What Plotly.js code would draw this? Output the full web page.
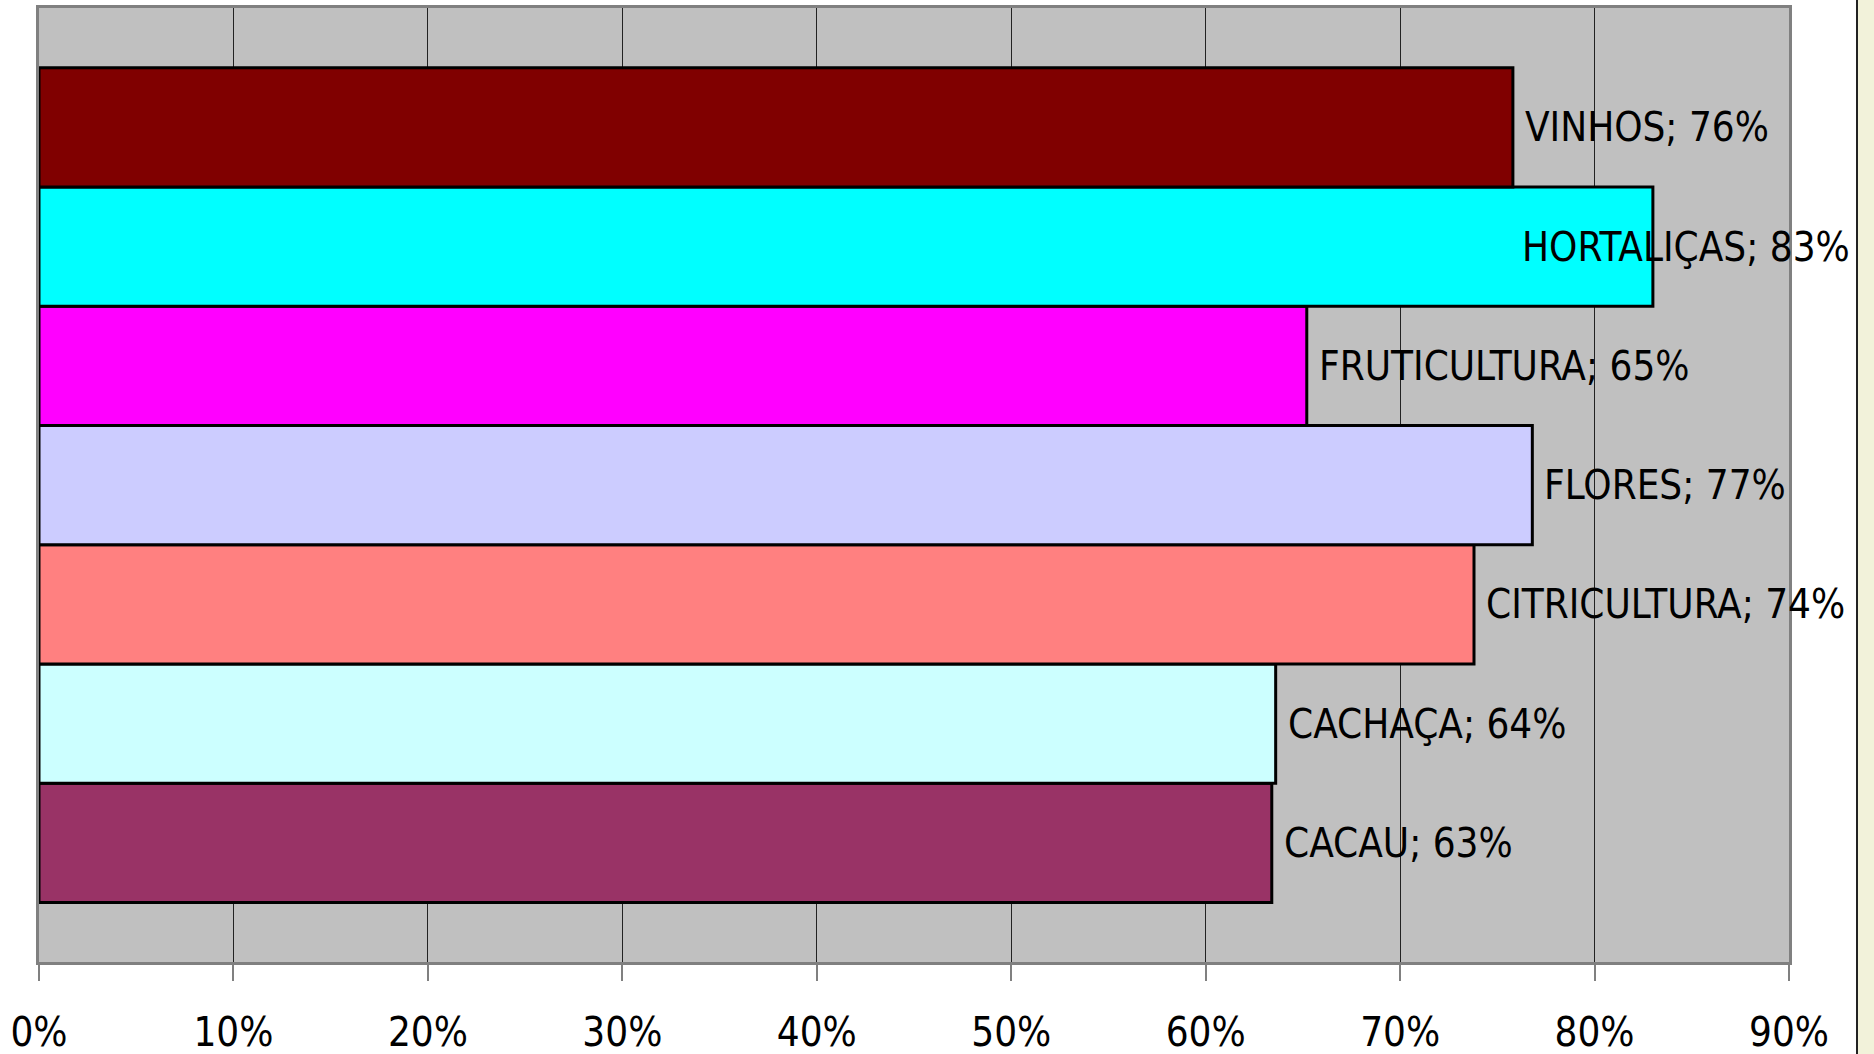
<!DOCTYPE html>
<html>
<head>
<meta charset="utf-8">
<script src="https://cdn.plot.ly/plotly-3.0.1.min.js"></script>
<style>
  html, body { margin: 0; padding: 0; background: #ffffff; }
  #chart { width: 1874px; height: 1054px; }
</style>
</head>
<body>
<div id="chart"></div>
<script>
// Categories listed bottom to top
const categories = ["CACAU", "CACHAÇA", "CITRICULTURA", "FLORES", "FRUTICULTURA", "HORTALIÇAS", "VINHOS"];
const values = [0.634, 0.636, 0.738, 0.768, 0.652, 0.83, 0.758];
const labelPercents = [63, 64, 74, 77, 65, 83, 76];
const barColors = ["#993366", "#CCFFFF", "#FF8080", "#CCCCFF", "#FF00FF", "#00FFFF", "#800000"];
const tickValues = [0, 0.1, 0.2, 0.3, 0.4, 0.5, 0.6, 0.7, 0.8, 0.9];
const tickLabels = ["0%", "10%", "20%", "30%", "40%", "50%", "60%", "70%", "80%", "90%"];

const FONT = "'DejaVu Sans Condensed', 'Liberation Sans Narrow', 'Arial Narrow', sans-serif";
const FONT_SIZE = 40;

const W = 1874, H = 1054;
const M = { l: 39, r: 85, t: 8, b: 92 };
const pw = W - M.l - M.r, ph = H - M.t - M.b;
const LABEL_LIMIT = 1852; // labels are kept inside the chart area

const trace = {
  type: "bar",
  orientation: "h",
  y: categories,
  x: values,
  marker: { color: barColors, line: { color: "#000000", width: 3 } },
  hoverinfo: "none",
  showlegend: false
};

const annotations = categories.map((c, i) => ({
  x: values[i], y: c, xref: "x", yref: "y",
  text: c + "; " + labelPercents[i] + "%",
  showarrow: false, xanchor: "left", yanchor: "middle",
  xshift: 10,
  font: { family: FONT, size: FONT_SIZE, color: "#000000" }
}));

const shapes = [
  { type: "rect", xref: "paper", yref: "paper",
    x0: (1858 - M.l) / pw, x1: (1880 - M.l) / pw,
    y0: -(M.b + 5) / ph, y1: 1 + (M.t + 5) / ph,
    fillcolor: "#F2F2DA", line: { width: 0 }, layer: "below" },
  { type: "line", xref: "paper", yref: "paper",
    x0: (1857 - M.l) / pw, x1: (1857 - M.l) / pw,
    y0: -(M.b + 5) / ph, y1: 1 + (M.t + 5) / ph,
    line: { color: "#222222", width: 2 } }
];

const layout = {
  width: W, height: H,
  margin: M,
  paper_bgcolor: "#ffffff",
  plot_bgcolor: "#C0C0C0",
  bargap: 0,
  xaxis: {
    range: [0, 0.9],
    tickvals: tickValues,
    ticktext: tickLabels,
    ticks: "outside", ticklen: 16, tickwidth: 2, tickcolor: "#808080",
    ticklabelstandoff: 17,
    showgrid: true, gridcolor: "#222222", gridwidth: 1.2,
    zeroline: false,
    showline: true, mirror: true, linecolor: "#808080", linewidth: 3,
    tickfont: { family: FONT, size: FONT_SIZE, color: "#000000" },
    fixedrange: true
  },
  yaxis: {
    type: "category",
    categoryorder: "array", categoryarray: categories,
    range: [-1, 7],
    showticklabels: false, ticks: "",
    showgrid: false, zeroline: false,
    showline: true, mirror: true, linecolor: "#808080", linewidth: 3,
    fixedrange: true
  },
  annotations: annotations,
  shapes: shapes
};

const gd = document.getElementById("chart");
Plotly.newPlot(gd, [trace], layout, { displayModeBar: false, staticPlot: true }).then(() => {
  // Shift labels that would run past the chart area back to the left
  const rootLeft = gd.getBoundingClientRect().left;
  const upd = {};
  gd.querySelectorAll(".annotation").forEach((el, i) => {
    const r = el.getBoundingClientRect();
    const right = r.right - rootLeft;
    if (right > LABEL_LIMIT) {
      upd["annotations[" + i + "].xshift"] = annotations[i].xshift - (right - LABEL_LIMIT);
    }
  });
  if (Object.keys(upd).length) Plotly.relayout(gd, upd);
});
</script>
</body>
</html>
